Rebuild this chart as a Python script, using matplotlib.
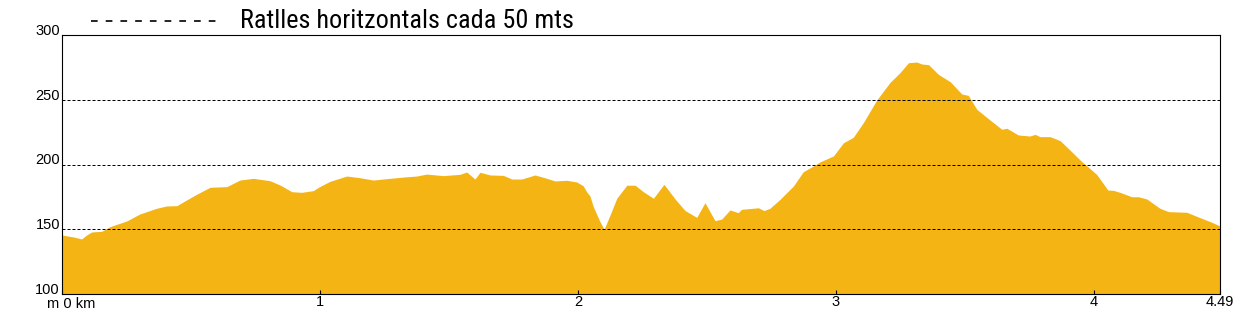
import matplotlib
matplotlib.use("Agg")
import matplotlib.pyplot as plt
from matplotlib import font_manager
from matplotlib.lines import Line2D
import matplotlib.transforms as mtransforms

# ---- data ----
distance_km = [0.000, 0.050, 0.076, 0.095, 0.115, 0.154, 0.186, 0.251, 0.302, 0.367,
               0.406, 0.445, 0.483, 0.522, 0.574, 0.639, 0.690, 0.742, 0.806, 0.845,
               0.891, 0.929, 0.974, 1.000, 1.039, 1.104, 1.155, 1.207, 1.246, 1.323,
               1.375, 1.414, 1.478, 1.543, 1.569, 1.601, 1.621, 1.660, 1.711, 1.744,
               1.783, 1.834, 1.866, 1.912, 1.957, 1.996, 2.021, 2.034, 2.047, 2.060,
               2.086, 2.102, 2.125, 2.151, 2.190, 2.222, 2.254, 2.293, 2.334, 2.377,
               2.416, 2.461, 2.493, 2.532, 2.558, 2.590, 2.622, 2.635, 2.680, 2.700,
               2.722, 2.745, 2.784, 2.836, 2.874, 2.913, 2.939, 2.991, 3.030, 3.068,
               3.107, 3.159, 3.211, 3.249, 3.282, 3.314, 3.334, 3.360, 3.398, 3.444,
               3.489, 3.514, 3.547, 3.598, 3.644, 3.663, 3.708, 3.753, 3.773, 3.792,
               3.831, 3.870, 3.908, 3.950, 4.012, 4.055, 4.077, 4.102, 4.148, 4.173,
               4.206, 4.257, 4.290, 4.361, 4.413, 4.458, 4.490]
elevation_m = [145.6, 143.8, 142.5, 145.5, 147.9, 148.4, 152.0, 156.4, 161.8, 166.2,
               168.0, 168.2, 172.6, 177.0, 182.4, 182.9, 188.0, 189.3, 187.5, 184.2,
               179.0, 178.5, 179.8, 183.0, 187.0, 191.1, 189.8, 188.0, 188.8, 190.3,
               191.1, 192.6, 191.4, 192.4, 194.2, 188.8, 194.0, 191.9, 191.6, 188.8,
               188.8, 191.9, 190.1, 187.3, 187.8, 186.5, 183.5, 179.0, 175.7, 167.4,
               155.8, 150.0, 161.0, 173.9, 184.0, 184.0, 179.0, 173.9, 184.7, 173.4,
               164.4, 159.2, 170.5, 156.6, 157.9, 164.9, 162.8, 165.4, 166.2, 166.6,
               164.4, 166.2, 173.1, 183.4, 194.4, 198.8, 202.0, 206.6, 216.8, 221.0,
               232.3, 249.8, 263.5, 270.9, 278.6, 279.1, 277.6, 277.1, 269.6, 263.9,
               254.4, 253.4, 242.6, 234.4, 227.2, 228.0, 222.8, 222.0, 223.3, 221.5,
               221.5, 218.4, 211.2, 203.0, 192.3, 180.3, 180.0, 178.5, 175.1, 175.1,
               173.4, 166.2, 163.6, 163.1, 158.9, 155.4, 152.5]
x_ticks = [0, 1, 2, 3, 4, 4.49]
x_tick_labels = ["", "1", "2", "3", "4", "4.49"]
y_ticks = [100, 150, 200, 250, 300]
grid_levels = [150, 200, 250]
legend_text = "Ratlles horitzontals cada 50 mts"

# ---- fonts ----
def pick(fams):
    for f in fams:
        try:
            font_manager.findfont(f, fallback_to_default=False)
            return f
        except Exception:
            pass
    return "DejaVu Sans"

base_font = pick(["Liberation Sans", "Arial"])
narrow_font = pick(["Liberation Sans Narrow", "Arial Narrow", "Roboto Condensed"])
have_narrow = narrow_font not in ("DejaVu Sans",)
legend_font = narrow_font if have_narrow else base_font
if narrow_font == "Roboto Condensed":
    legend_size = 18.9
elif have_narrow:
    legend_size = 20.5
else:
    legend_size = 15.5

plt.rcParams["font.family"] = base_font
plt.rcParams["lines.scale_dashes"] = False

W, H = 1251, 309
fig = plt.figure(figsize=(W / 100, H / 100), dpi=100)
ax = fig.add_axes([62 / W, 15 / H, 1158 / W, 259 / H])

fill_color = "#F4B414"
ax.fill_between(distance_km, 100, elevation_m, color=fill_color, linewidth=0,
                antialiased=False, zorder=1)
for g in grid_levels:
    ax.axhline(g, color="black", linewidth=0.72, linestyle=(0, (2.16, 1.44)), zorder=2)

ax.set_xlim(0, 4.49)
ax.set_ylim(100, 300)

ax.set_xticks(x_ticks)
ax.set_xticklabels(x_tick_labels)
ax.tick_params(axis="x", direction="in", length=3, width=0.8, pad=1, labelsize=10.5)
ax.set_yticks(y_ticks)
ax.set_yticklabels([str(v) for v in y_ticks])
ax.tick_params(axis="y", length=0, pad=1.5, labelsize=10.5)
for lbl in ax.get_yticklabels():
    lbl.set_verticalalignment("baseline")

for s in ax.spines.values():
    s.set_linewidth(0.8)
    s.set_color("black")

# start label "m 0 km"
trans = mtransforms.blended_transform_factory(ax.transData, ax.transAxes)
ax.text(0, 0, "m 0 km",
        transform=trans + mtransforms.ScaledTranslation(8.7 / 100, -2.5 / 100, fig.dpi_scale_trans),
        ha="center", va="top", fontsize=10.5)

# legend
leg_y = 1 - 20.7 / H
fig.add_artist(Line2D([91 / W, 217 / W], [leg_y, leg_y], transform=fig.transFigure,
                      color="black", linewidth=1.2, linestyle=(0, (4.8, 5.8))))
fig.text(240 / W, 1 - 28.5 / H, legend_text, ha="left", va="baseline",
         fontsize=legend_size, family=legend_font)

fig.savefig("out.png", dpi=100)
